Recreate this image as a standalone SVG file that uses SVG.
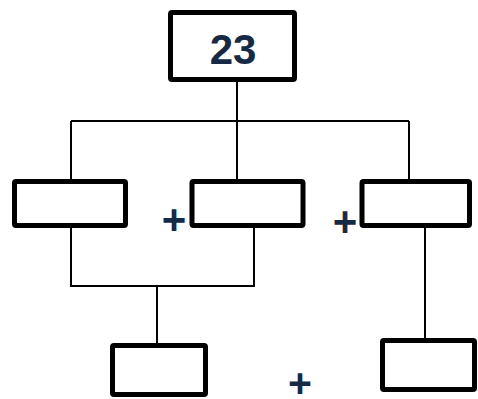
<svg xmlns="http://www.w3.org/2000/svg" width="478" height="399" viewBox="0 0 478 399">
<style>
.box{fill:#fff;stroke:#000;stroke-width:5;stroke-linejoin:round}
.conn{fill:none;stroke:#000;stroke-width:2}
.lbl{font-family:"Liberation Sans",Arial,sans-serif;font-weight:bold;fill:#172a45;text-anchor:middle}
</style>
<rect width="478" height="399" fill="#fff"/>
<g id="connectors">
<path class="conn" d="M237,80 V121 M71,121 H409 M71,121 V181 M237,121 V181 M409,121 V181"/>
<path class="conn" d="M71,226 V286 H254 V226 M157,286 V345"/>
<path class="conn" d="M425,226 V340"/>
</g>
<g id="node-23"><rect class="box" x="170.5" y="12.5" width="124" height="67" rx="1.5"/><text class="lbl" x="233" y="64" font-size="42">23</text></g>
<g id="node-a"><rect class="box" x="14.5" y="181.5" width="111" height="44" rx="1.5"/></g>
<g id="node-b"><rect class="box" x="192" y="181.5" width="111" height="44" rx="1.5"/></g>
<g id="node-c"><rect class="box" x="362" y="181.5" width="107.5" height="44" rx="1.5"/></g>
<g id="node-d"><rect class="box" x="112.5" y="345.5" width="93" height="49" rx="1.5"/></g>
<g id="node-e"><rect class="box" x="382.5" y="340.5" width="92" height="49" rx="1.5"/></g>
<g id="plus-signs">
<text class="lbl" x="174" y="234" font-size="42">+</text>
<text class="lbl" x="345" y="236" font-size="42">+</text>
<text class="lbl" x="300" y="397" font-size="41">+</text>
</g>
</svg>
